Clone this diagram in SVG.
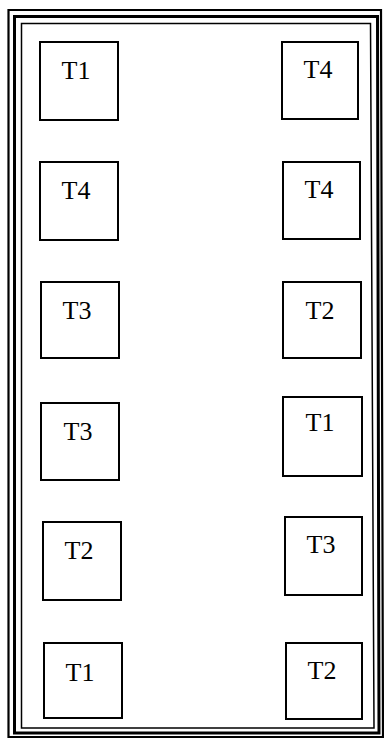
<svg xmlns="http://www.w3.org/2000/svg" width="384" height="740" viewBox="0 0 384 740">
<style>
.frame{fill:none;stroke:#000}
.box{fill:#fff;stroke:#000;stroke-width:2}
.lbl{font-family:"Liberation Serif","Times New Roman",serif;font-size:26px;fill:#000;text-anchor:middle}
</style>
<rect width="384" height="740" fill="#fff"/>
<g id="frame">
<path class="frame" d="M8.5,10 L381,10 L383,737 L8.5,737 Z" stroke-width="2.2"/>
<path class="frame" d="M14.5,16.5 L377.5,16.5 L379,733 L14.5,733 Z" stroke-width="3"/>
<path class="frame" d="M21.5,23.5 L370.5,23.5 L374,728 L21.5,728 Z" stroke-width="1.5"/>
</g>
<g id="L1"><rect class="box" x="40" y="42" width="78" height="78"/><text class="lbl" x="76" y="79">T1</text></g>
<g id="L2"><rect class="box" x="40" y="162" width="78" height="78"/><text class="lbl" x="76" y="199">T4</text></g>
<g id="L3"><rect class="box" x="41" y="282" width="78" height="76"/><text class="lbl" x="77" y="319">T3</text></g>
<g id="L4"><rect class="box" x="41" y="403" width="78" height="77"/><text class="lbl" x="78" y="440">T3</text></g>
<g id="L5"><rect class="box" x="43" y="522" width="78" height="78"/><text class="lbl" x="79" y="559">T2</text></g>
<g id="L6"><rect class="box" x="44" y="643" width="78" height="75"/><text class="lbl" x="80" y="681">T1</text></g>
<g id="R1"><rect class="box" x="282" y="42" width="76" height="77"/><text class="lbl" x="318" y="78">T4</text></g>
<g id="R2"><rect class="box" x="283" y="162" width="77" height="77"/><text class="lbl" x="319" y="198">T4</text></g>
<g id="R3"><rect class="box" x="283" y="282" width="78" height="76"/><text class="lbl" x="320" y="319">T2</text></g>
<g id="R4"><rect class="box" x="283" y="397" width="79" height="79"/><text class="lbl" x="320" y="431">T1</text></g>
<g id="R5"><rect class="box" x="285" y="517" width="77" height="78"/><text class="lbl" x="321" y="553">T3</text></g>
<g id="R6"><rect class="box" x="286" y="643" width="76" height="76"/><text class="lbl" x="322" y="679">T2</text></g>
</svg>
